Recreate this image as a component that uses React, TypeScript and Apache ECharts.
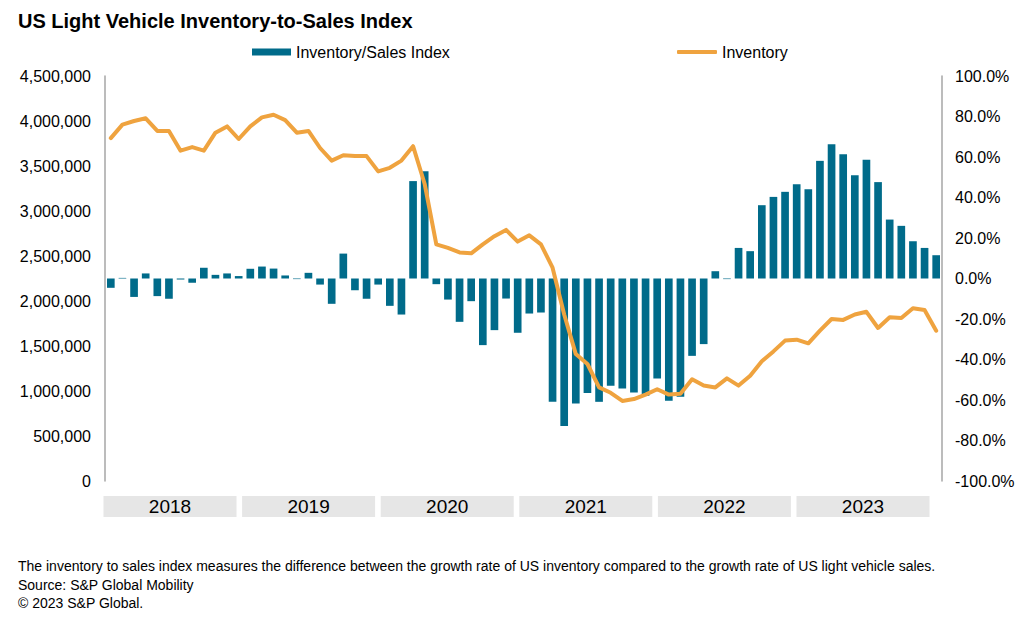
import React, { useEffect, useRef } from "react";
import * as echarts from "echarts";

const years = ["2018", "2019", "2020", "2021", "2022", "2023"];
const monthsPerYear = 12;
const categories: string[] = [];
years.forEach((y) => {
  for (let m = 1; m <= monthsPerYear; m++) categories.push(`${y}-${String(m).padStart(2, "0")}`);
});

// Inventory/Sales Index, % (right axis)
const index2018 = [-4.6, 0.3, -9.1, 2.5, -8.7, -10.0, -0.5, -2.1, 5.3, 1.8, 2.5, 1.2];
const index2019 = [4.8, 5.9, 4.9, 1.5, -0.3, 2.8, -3.0, -12.5, 12.3, -5.8, -10.0, -3.0];
const index2020 = [-13.5, -17.8, 48.1, 53.0, -2.8, -10.4, -21.4, -11.2, -32.9, -25.5, -9.9, -26.8];
const index2021 = [-17.3, -16.8, -60.9, -72.8, -61.7, -56.5, -60.9, -53.0, -54.3, -56.3, -57.9, -49.4];
const index2022 = [-60.4, -58.4, -38.2, -32.4, 3.6, -0.3, 15.1, 13.5, 36.2, 40.3, 42.8, 46.6];
const index2023 = [44.1, 58.1, 66.3, 61.4, 51.0, 58.6, 47.6, 29.1, 26.0, 18.4, 15.1, 11.5];

// Inventory, units (left axis)
const inv2018 = [3810000, 3960000, 4000000, 4030000, 3890000, 3890000, 3670000, 3710000, 3670000, 3870000, 3940000, 3800000];
const inv2019 = [3940000, 4040000, 4070000, 4010000, 3870000, 3890000, 3700000, 3560000, 3620000, 3610000, 3610000, 3440000];
const inv2020 = [3480000, 3560000, 3720000, 3300000, 2630000, 2590000, 2540000, 2530000, 2630000, 2720000, 2790000, 2660000];
const inv2021 = [2730000, 2630000, 2370000, 1850000, 1410000, 1300000, 1040000, 980000, 890000, 910000, 960000, 1020000];
const inv2022 = [960000, 970000, 1130000, 1060000, 1040000, 1140000, 1060000, 1170000, 1330000, 1440000, 1560000, 1570000];
const inv2023 = [1530000, 1670000, 1800000, 1790000, 1850000, 1880000, 1700000, 1820000, 1810000, 1920000, 1900000, 1670000];

const indexValues = [...index2018, ...index2019, ...index2020, ...index2021, ...index2022, ...index2023];
const inventoryValues = [...inv2018, ...inv2019, ...inv2020, ...inv2021, ...inv2022, ...inv2023];

const footnotes = [
  "The inventory to sales index measures the difference between the growth rate of US inventory compared to the growth rate of US light vehicle sales.",
  "Source: S&P Global Mobility",
  "\u00a9 2023 S&P Global.",
];

const FONT = "'Liberation Sans', Arial, Helvetica, sans-serif";
const BAR_COLOR = "#006B8A";
const LINE_COLOR = "#EFA33F";
const AXIS_COLOR = "#A6A6A6";

export default function App() {
  const ref = useRef<HTMLDivElement>(null);
  useEffect(() => {
    if (!ref.current) return;
    const chart = echarts.init(ref.current, null, { renderer: "svg" });
    chart.setOption({
      animation: false,
      backgroundColor: "#ffffff",
      textStyle: { fontFamily: FONT, color: "#000" },
      title: {
        text: "US Light Vehicle Inventory-to-Sales Index",
        left: 18,
        top: 11,
        padding: 0,
        textStyle: { fontFamily: FONT, fontSize: 20, fontWeight: "bold", color: "#000" },
      },
      legend: [
        {
          left: 252,
          top: 44,
          padding: 0,
          data: [{ name: "Inventory/Sales Index", icon: "rect" }],
          itemWidth: 39,
          itemHeight: 7,
          textStyle: { fontFamily: FONT, fontSize: 16, color: "#000" },
        },
        {
          left: 677,
          top: 44,
          padding: 0,
          data: [{ name: "Inventory", icon: "roundRect" }],
          itemWidth: 40,
          itemHeight: 4,
          textStyle: { fontFamily: FONT, fontSize: 16, color: "#000" },
        },
      ],
      grid: [
        { left: 105, right: 92, top: 76, height: 405, containLabel: false },
        { left: 100.7, right: 101.7, top: 481, height: 1, containLabel: false },
      ],
      xAxis: [
        {
          type: "category",
          gridIndex: 0,
          data: categories,
          axisLine: { show: false },
          axisTick: { show: false },
          axisLabel: { show: false },
          splitLine: { show: false },
        },
        {
          type: "category",
          gridIndex: 1,
          data: years,
          axisLine: { show: false },
          axisTick: { show: false },
          splitLine: { show: false },
          axisLabel: {
            margin: 14,
            fontFamily: FONT,
            fontSize: 19,
            color: "#000",
            backgroundColor: "#E6E6E6",
            width: 133,
            height: 21,
            lineHeight: 21,
            align: "center",
          },
        },
      ],
      yAxis: [
        {
          type: "value",
          gridIndex: 0,
          min: 0,
          max: 4500000,
          interval: 500000,
          position: "left",
          axisLine: { show: true, lineStyle: { color: AXIS_COLOR, width: 1.5 } },
          axisTick: { show: false },
          splitLine: { show: false },
          axisLabel: {
            margin: 14,
            fontFamily: FONT,
            fontSize: 16,
            color: "#000",
            formatter: (v: number) => v.toLocaleString("en-US"),
          },
        },
        {
          type: "value",
          gridIndex: 0,
          min: -100,
          max: 100,
          interval: 20,
          position: "right",
          axisLine: { show: true, lineStyle: { color: AXIS_COLOR, width: 1.5 } },
          axisTick: { show: false },
          splitLine: { show: false },
          axisLabel: {
            margin: 13,
            fontFamily: FONT,
            fontSize: 16,
            color: "#000",
            formatter: (v: number) => v.toFixed(1) + "%",
          },
        },
        { type: "value", gridIndex: 1, show: false },
      ],
      series: [
        {
          name: "Inventory/Sales Index",
          type: "bar",
          xAxisIndex: 0,
          yAxisIndex: 1,
          data: indexValues,
          barWidth: "66%",
          itemStyle: { color: BAR_COLOR },
          z: 2,
        },
        {
          name: "Inventory",
          type: "line",
          xAxisIndex: 0,
          yAxisIndex: 0,
          data: inventoryValues,
          symbol: "none",
          showSymbol: false,
          lineStyle: { color: LINE_COLOR, width: 4, join: "round", cap: "round" },
          itemStyle: { color: LINE_COLOR },
          z: 3,
        },
      ],
      graphic: footnotes.map((t, i) => ({
        type: "text",
        left: 18,
        top: 559 + i * 18.5,
        style: { text: t, fontFamily: FONT, fontSize: 14, fill: "#000" },
      })),
    });
    return () => chart.dispose();
  }, []);
  return (
    <div
      ref={ref}
      style={{ position: "fixed", left: 0, top: 0, width: 1034, height: 618, background: "#fff" }}
    />
  );
}
